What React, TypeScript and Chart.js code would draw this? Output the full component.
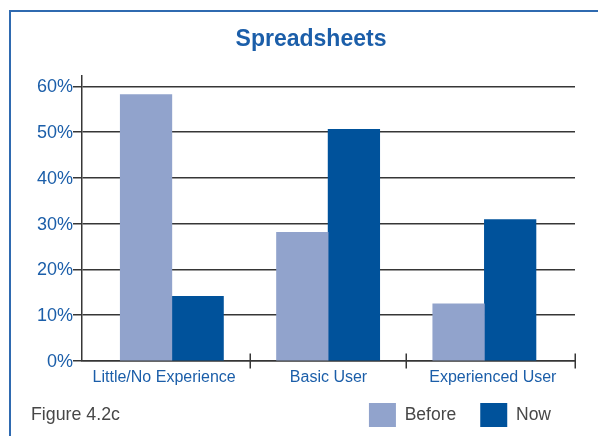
import React, { useEffect, useRef } from "react";
import { Chart, registerables } from "chart.js";

Chart.register(...registerables);

// ---- data ----
const categories = ["Little/No Experience", "Basic User", "Experienced User"];
const seriesNames = ["Before", "Now"];
const beforeValues = [58.2, 28.1, 12.5];
const nowValues = [14.1, 50.6, 30.9];
const yTickStep = 10;
const titleText = "Spreadsheets";
const figureLabel = "Figure 4.2c";

// ---- styles ----
const FONT = "'Liberation Sans', Arial, sans-serif";
const BLUE_TEXT = "#1b5ea9";
const AXIS = "#363636";
const BEFORE_COLOR = "#91a3cc";
const NOW_COLOR = "#00529b";
const GRAY_TEXT = "#474747";
const BAR_THICKNESS = 51.6;

export default function App() {
  const ref = useRef<HTMLCanvasElement>(null);

  useEffect(() => {
    document.body.style.margin = "0";
    const canvas = ref.current;
    if (!canvas) return;

    const groupTicks = {
      id: "groupTicks",
      afterDraw(chart: any) {
        const xs = chart.scales.x;
        const ys = chart.scales.y.getPixelForValue(0);
        const { ctx, chartArea } = chart;
        const pxs: number[] = categories.slice(1).map((_, i) => xs.getPixelForValue(i + 0.5));
        pxs.push(chartArea.right);
        ctx.save();
        ctx.strokeStyle = AXIS;
        ctx.lineWidth = 1.5;
        ctx.beginPath();
        pxs.forEach((px) => {
          const x = Math.round(px) + 0.25;
          ctx.moveTo(x, ys - 7.5);
          ctx.lineTo(x, ys + 7.5);
        });
        ctx.stroke();
        ctx.restore();
      },
    };

    const chart = new Chart(canvas, {
      type: "bar",
      data: {
        datasets: [
          {
            label: seriesNames[0],
            data: beforeValues.map((v, i) => ({ x: i, y: v })),
            backgroundColor: BEFORE_COLOR,
            borderWidth: 0,
            barThickness: BAR_THICKNESS,
            xAxisID: "x",
            yAxisID: "y",
          },
          {
            label: seriesNames[1],
            data: nowValues.map((v, i) => ({ x: i, y: v })),
            backgroundColor: NOW_COLOR,
            borderWidth: 0,
            barThickness: BAR_THICKNESS,
            xAxisID: "x",
            yAxisID: "y",
          },
        ],
      },
      options: {
        animation: false,
        responsive: false,
        maintainAspectRatio: false,
        layout: { padding: { left: 30, right: 6, top: 0, bottom: -1 } },
        plugins: {
          title: {
            display: true,
            text: titleText,
            color: BLUE_TEXT,
            font: { family: FONT, size: 23, weight: "bold" },
            padding: { top: 26, bottom: 22 },
          },
          legend: {
            position: "bottom",
            align: "end",
            fullSize: false,
            labels: {
              boxWidth: 27,
              boxHeight: 24,
              padding: 24,
              color: GRAY_TEXT,
              font: { family: FONT, size: 17.5 },
            },
          },
          tooltip: { enabled: false },
        },
        scales: {
          x: {
            type: "linear",
            min: -0.575,
            max: 2.58,
            bounds: "data",
            offset: false,
            weight: 0,
            grid: { display: false, drawTicks: false, offset: false },
            border: { display: true, color: AXIS, width: 1.5 },
            ticks: { display: false, stepSize: 1, includeBounds: false },
            afterFit: (s: any) => {
              s.height = 0;
            },
          },
          xLabels: {
            type: "category",
            labels: categories,
            offset: true,
            position: "bottom",
            weight: 1,
            grid: { display: false, drawTicks: false },
            border: { display: false },
            ticks: {
              mirror: true,
              padding: -26.4,
              color: BLUE_TEXT,
              font: { family: FONT, size: 16 },
              autoSkip: false,
              maxRotation: 0,
            },
            afterFit: (s: any) => {
              s.height = 18;
            },
          },
          y: {
            type: "linear",
            position: "left",
            min: 0,
            max: 62.34,
            grid: { color: AXIS, lineWidth: 1.5, tickLength: 9, drawTicks: true },
            border: { display: true, color: AXIS, width: 1.5 },
            ticks: {
              stepSize: yTickStep,
              includeBounds: false,
              padding: 0,
              labelOffset: 1,
              color: BLUE_TEXT,
              font: { family: FONT, size: 18 },
              callback: (v: any) => v + "%",
            },
            afterFit: (s: any) => {
              s.width = 52;
            },
          },
          ySpacer: {
            type: "linear",
            position: "right",
            display: true,
            grid: { display: false, drawTicks: false },
            border: { display: false },
            ticks: { display: false },
            afterFit: (s: any) => {
              s.width = 17;
            },
          },
        },
      } as any,
      plugins: [groupTicks],
    });

    return () => chart.destroy();
  }, []);

  return (
    <div style={{ position: "absolute", left: 0, top: 0, width: 598, height: 436, overflow: "hidden", background: "#fff" }}>
      <div
        style={{
          position: "absolute",
          left: 9,
          top: 10,
          width: 700,
          height: 600,
          borderLeft: "2px solid #2f6ab0",
          borderTop: "2px solid #2f6ab0",
        }}
      />
      <canvas ref={ref} width={598} height={436} style={{ position: "absolute", left: 0, top: 0 }} />
      <div
        style={{
          position: "absolute",
          left: 31,
          top: 406,
          fontFamily: FONT,
          fontSize: 17.8,
          lineHeight: 1,
          color: GRAY_TEXT,
          whiteSpace: "nowrap",
        }}
      >
        {figureLabel}
      </div>
    </div>
  );
}
